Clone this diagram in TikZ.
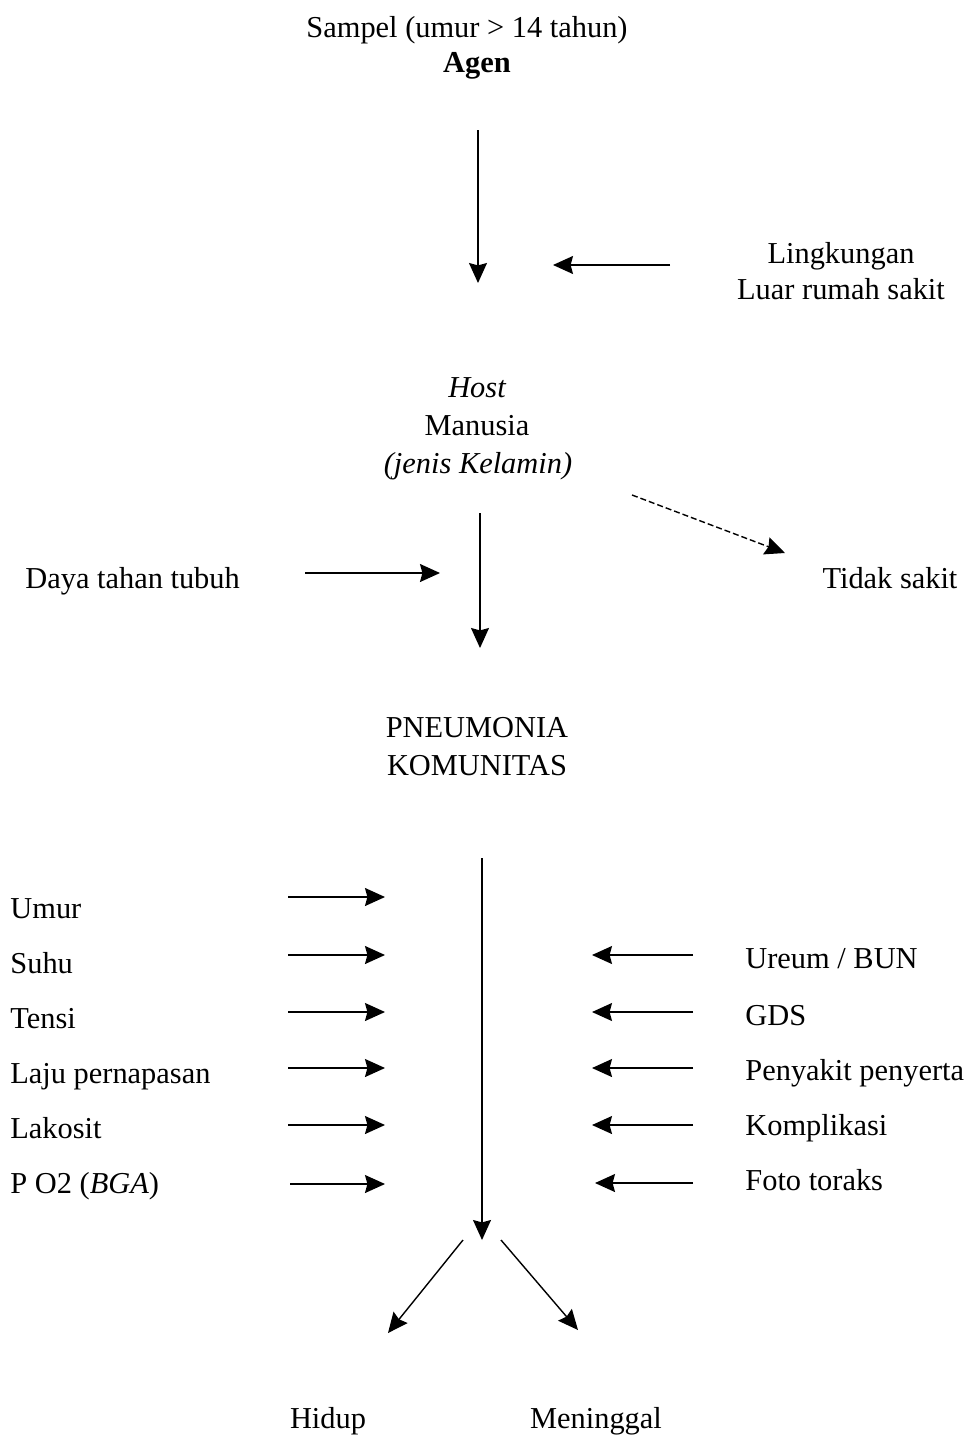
\documentclass[tikz,border=0pt]{standalone}
\usepackage{fontspec}
\setmainfont{Liberation Serif}
\usetikzlibrary{arrows.meta}
\newcommand{\labelsize}{\fontsize{15.2}{19}\selectfont}

\begin{document}
\begin{tikzpicture}[
    x=0.5pt, y=-0.5pt,
    every node/.style={font=\labelsize, inner sep=0pt},
    flow/.style={-{Stealth[length=10pt, width=9pt, inset=1.2pt]}, line width=0.7pt},
    dashflow/.style={flow, dash pattern=on 3pt off 1.5pt},
  ]

  \useasboundingbox (0,0) rectangle (974,1436);

  % === Agen ===
  \node[anchor=base] (sampel) at (467,37) {Sampel (umur > 14 tahun)};
  \node[anchor=base, font=\labelsize\bfseries] (agen) at (477,72) {Agen};

  \coordinate (agen-from) at (478,130);
  \coordinate (agen-to) at (478,283);
  \draw[flow] (agen-from) -- (agen-to);

  % === Lingkungan ===
  \node[anchor=base] (lingkungan) at (841,263) {Lingkungan};
  \node[anchor=base] (luar) at (841,299) {Luar rumah sakit};

  \coordinate (ling-from) at (670,265);
  \coordinate (ling-to) at (553,265);
  \draw[flow] (ling-from) -- (ling-to);

  % === Host ===
  \node[anchor=base, font=\labelsize\itshape] (host) at (477,397) {Host};
  \node[anchor=base] (manusia) at (477,435) {Manusia};
  \node[anchor=base, font=\labelsize\itshape] (kelamin) at (478,473) {(jenis Kelamin)};

  \coordinate (host-from) at (480,513);
  \coordinate (host-to) at (480,648);
  \draw[flow] (host-from) -- (host-to);

  % dashed branch
  \node[anchor=base] (tidak) at (890,588) {Tidak sakit};
  \coordinate (tidak-from) at (632,495);
  \coordinate (tidak-to) at (785,553);
  \draw[dashflow] (tidak-from) -- (tidak-to);

  % daya tahan tubuh
  \node[anchor=base west] (daya) at (25,588) {Daya tahan tubuh};
  \coordinate (daya-from) at (305,573);
  \coordinate (daya-to) at (440,573);
  \draw[flow] (daya-from) -- (daya-to);

  % === Pneumonia ===
  \node[anchor=base] (pneumonia) at (477,737) {PNEUMONIA};
  \node[anchor=base] (komunitas) at (477,775) {KOMUNITAS};

  \coordinate (pn-from) at (482,858);
  \coordinate (pn-to) at (482,1240);
  \draw[flow] (pn-from) -- (pn-to);

  % === Left factors ===
  \node[anchor=base west] (umur) at (10,918) {Umur};
  \node[anchor=base west] (suhu) at (10,973) {Suhu};
  \node[anchor=base west] (tensi) at (10,1028) {Tensi};
  \node[anchor=base west] (laju) at (10,1083) {Laju pernapasan};
  \node[anchor=base west] (lakosit) at (10,1138) {Lakosit};
  \node[anchor=base west] (po2) at (10,1193) {P O2 (\textit{BGA})};

  \coordinate (umur-from) at (288,897);    \coordinate (umur-to) at (385,897);
  \coordinate (suhu-from) at (288,955);    \coordinate (suhu-to) at (385,955);
  \coordinate (tensi-from) at (288,1012);  \coordinate (tensi-to) at (385,1012);
  \coordinate (laju-from) at (288,1068);   \coordinate (laju-to) at (385,1068);
  \coordinate (lakosit-from) at (288,1125); \coordinate (lakosit-to) at (385,1125);
  \coordinate (po2-from) at (290,1184);    \coordinate (po2-to) at (385,1184);
  \draw[flow] (umur-from) -- (umur-to);
  \draw[flow] (suhu-from) -- (suhu-to);
  \draw[flow] (tensi-from) -- (tensi-to);
  \draw[flow] (laju-from) -- (laju-to);
  \draw[flow] (lakosit-from) -- (lakosit-to);
  \draw[flow] (po2-from) -- (po2-to);

  % === Right factors ===
  \node[anchor=base west] (ureum) at (745,968) {Ureum / BUN};
  \node[anchor=base west] (gds) at (745,1025) {GDS};
  \node[anchor=base west] (penyakit) at (745,1080) {Penyakit penyerta};
  \node[anchor=base west] (komplikasi) at (745,1135) {Komplikasi};
  \node[anchor=base west] (foto) at (745,1190) {Foto toraks};

  \coordinate (ureum-from) at (693,955);       \coordinate (ureum-to) at (592,955);
  \coordinate (gds-from) at (693,1012);        \coordinate (gds-to) at (592,1012);
  \coordinate (penyakit-from) at (693,1068);   \coordinate (penyakit-to) at (592,1068);
  \coordinate (komplikasi-from) at (693,1125); \coordinate (komplikasi-to) at (592,1125);
  \coordinate (foto-from) at (693,1183);       \coordinate (foto-to) at (595,1183);
  \draw[flow] (ureum-from) -- (ureum-to);
  \draw[flow] (gds-from) -- (gds-to);
  \draw[flow] (penyakit-from) -- (penyakit-to);
  \draw[flow] (komplikasi-from) -- (komplikasi-to);
  \draw[flow] (foto-from) -- (foto-to);

  % === Outcome ===
  \node[anchor=base] (hidup) at (328,1428) {Hidup};
  \node[anchor=base] (meninggal) at (596,1428) {Meninggal};

  \coordinate (hidup-from) at (463,1240);
  \coordinate (hidup-to) at (388,1333);
  \coordinate (mati-from) at (501,1240);
  \coordinate (mati-to) at (578,1330);
  \draw[flow] (hidup-from) -- (hidup-to);
  \draw[flow] (mati-from) -- (mati-to);

\end{tikzpicture}
\end{document}
